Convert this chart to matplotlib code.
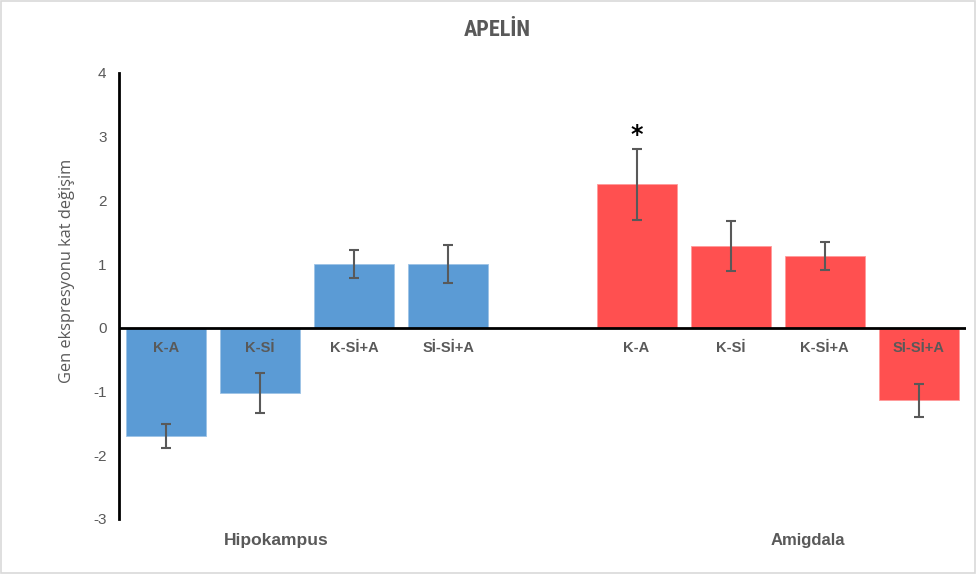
import matplotlib
matplotlib.use("Agg")
import matplotlib.pyplot as plt
from matplotlib.patches import Rectangle
import matplotlib.transforms as mtransforms

# Data
groups = ["Hipokampus", "Amigdala"]
labels = ["K-A", "K-Sİ", "K-Sİ+A", "Sİ-Sİ+A"]
hipokampus_vals = [-1.70, -1.02, 1.00, 1.00]
hipokampus_err = [0.19, 0.31, 0.22, 0.30]
amigdala_vals = [2.25, 1.28, 1.12, -1.14]
amigdala_err = [0.56, 0.39, 0.22, 0.26]
yticks = [-3, -2, -1, 0, 1, 2, 3, 4]

blue = "#5B9BD5"
red = "#FF5050"
txt = "#595959"
sans = ["Liberation Sans", "DejaVu Sans"]

fig = plt.figure(figsize=(9.77, 5.76), dpi=100)
fig.patches.append(Rectangle((0.001, 0.006), 0.997, 0.992, transform=fig.transFigure,
                             fill=False, edgecolor="#D9D9D9", linewidth=1.2))
ax = fig.add_axes([0.1218, 0.099, 0.8669, 0.7743])

pos_h = [0, 1, 2, 3]
pos_a = [5, 6, 7, 8]
w = 0.85
ekw = dict(ecolor=txt, elinewidth=1.5, capsize=3.5, capthick=1.5)
ax.bar(pos_h, hipokampus_vals, width=w, color=blue, edgecolor="#9DC3E6",
       linewidth=0.6, yerr=hipokampus_err, error_kw=ekw, zorder=2)
ax.bar(pos_a, amigdala_vals, width=w, color=red, edgecolor="#FF9A9A",
       linewidth=0.6, yerr=amigdala_err, error_kw=ekw, zorder=2)

ax.set_xlim(-0.5, 8.5)
ax.set_ylim(-3, 4)
ax.set_yticks(yticks)
ax.set_yticklabels([str(t) for t in yticks], fontsize=11, color=txt, family=sans)
ax.tick_params(axis="y", length=0, pad=9)
ax.set_xticks([])
for s in ["top", "right", "bottom"]:
    ax.spines[s].set_visible(False)
ax.spines["left"].set_linewidth(2)
ax.spines["left"].set_color("black")
ax.axhline(0, color="black", linewidth=2, zorder=3)

# category labels under the zero line
for p, lab in zip(pos_h + pos_a, labels + labels):
    ax.text(p, -0.31, lab, ha="center", va="center", fontsize=10.5, fontweight="bold",
            color=txt, family=sans, zorder=4)

# significance mark
ax.text(pos_a[0], amigdala_vals[0] + amigdala_err[0] + 0.22, "*", ha="center",
        va="center", fontsize=17, fontweight="bold", color="black")

# group labels
tr = mtransforms.blended_transform_factory(ax.transData, fig.transFigure)
ax.text(1.17, 1 - 540 / 576, groups[0], transform=tr, ha="center", va="center",
        fontsize=12.5, fontweight="bold", color=txt, family=sans)
ax.text(6.82, 1 - 540 / 576, groups[1], transform=tr, ha="center", va="center",
        fontsize=12, fontweight="bold", color=txt, family=sans)

ax.set_ylabel("Gen ekspresyonu kat değişim", fontsize=11.8, color=txt,
              family=["Open Sans", "DejaVu Sans"])
ax.yaxis.set_label_coords(-(119 - 75) / 847, (519 - 271) / 446)

fig.text(497 / 977, 1 - 30 / 576, "APELİN", ha="center", va="center", fontsize=16,
         fontweight="bold", color=txt,
         family=["Liberation Sans Narrow", "Roboto Condensed", "Liberation Sans", "DejaVu Sans"])

fig.savefig("out.png", dpi=100)
